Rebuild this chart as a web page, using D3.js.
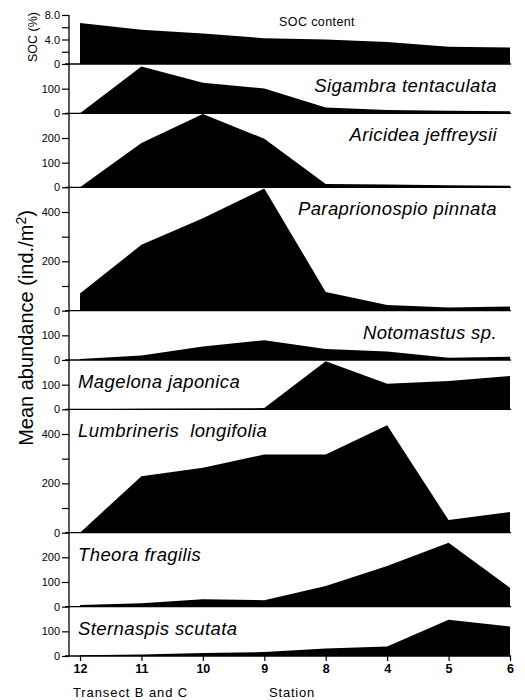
<!DOCTYPE html>
<html>
<head>
<meta charset="utf-8">
<script src="https://cdn.jsdelivr.net/npm/d3@7"></script>
<style>
  body { margin: 0; background: #fff; }
  svg { display: block; font-family: "Liberation Sans", Arial, sans-serif; }
</style>
</head>
<body>
<div id="chart"></div>
<script>
// stations along transect B and C
var stations = ["12", "11", "10", "9", "8", "4", "5", "6"];

// SOC content (%)
var socValues = [6.7, 5.6, 5.0, 4.2, 4.0, 3.6, 2.8, 2.7];

// mean abundance (ind./m2) per species
var sigambra = [0, 190, 124, 101, 24, 14, 10, 8];
var aricidea = [0, 180, 297, 197, 14, 11, 8, 6];
var paraprionospio = [70, 267, 375, 495, 76, 23, 13, 17];
var notomastus = [4, 18, 55, 80, 45, 34, 9, 13];
var magelona = [0, 2, 3, 5, 195, 104, 115, 135];
var lumbrineris = [0, 229, 263, 317, 317, 435, 51, 84];
var theora = [7, 14, 30, 26, 84, 165, 259, 77];
var sternaspis = [3, 6, 12, 16, 30, 39, 147, 120];

var speciesNames = ["Sigambra tentaculata", "Aricidea jeffreysii", "Paraprionospio pinnata",
  "Notomastus sp.", "Magelona japonica", "Lumbrineris  longifolia", "Theora fragilis", "Sternaspis scutata"];
var speciesMax = [200, 300, 500, 200, 200, 500, 300, 200];
var speciesLabelTicks = [[0, 100], [0, 100, 200], [0, 200, 400], [0, 100], [0, 100], [0, 200, 400], [0, 100, 200], [0, 100]];
var socTicks = [0, 2, 4, 6, 8];
var socTickLabels = ["0", "", "4.0", "", "8.0"];

var width = 525, height = 700;
var axisX = 69, top0 = 15, socH = 49, bottom = 656;

var svg = d3.select("#chart").append("svg")
    .attr("width", width)
    .attr("height", height);

var x = d3.scalePoint().domain(stations).range([80, 510]);

var allSpecies = [sigambra, aricidea, paraprionospio, notomastus, magelona, lumbrineris, theora, sternaspis];
var pxPerUnit = (bottom - top0 - socH) / d3.sum(speciesMax);

// build panels
var panels = [];
panels.push({values: socValues, max: 8, top: top0, h: socH, ticks: socTicks, tickLabels: socTickLabels});
var cur = top0 + socH;
allSpecies.forEach(function(vals, i) {
    var h = speciesMax[i] * pxPerUnit;
    var ticks = d3.range(0, speciesMax[i], 100);
    panels.push({
        values: vals, max: speciesMax[i], top: cur, h: h, ticks: ticks,
        tickLabels: ticks.map(function(t){ return speciesLabelTicks[i].indexOf(t) >= 0 ? String(t) : ""; }),
        name: speciesNames[i], right: i < 4
    });
    cur += h;
});

panels.forEach(function(p, i) {
    var y = d3.scaleLinear().domain([0, p.max]).range([p.top + p.h, p.top]);
    var base = p.top + p.h;

    var area = d3.area()
        .x(function(d, j){ return x(stations[j]); })
        .y0(base)
        .y1(function(d){ return y(d); });

    svg.append("path")
        .datum(p.values)
        .attr("d", area)
        .attr("fill", "#000");

    // baseline
    svg.append("line")
        .attr("x1", axisX - 4).attr("x2", 511)
        .attr("y1", base).attr("y2", base)
        .attr("stroke", "#000").attr("stroke-width", 1.3);

    // y ticks
    var yAxis = d3.axisLeft(y)
        .tickValues(p.ticks)
        .tickSize(7)
        .tickPadding(2)
        .tickFormat(function(d, k){ return p.tickLabels[k]; });
    var g = svg.append("g")
        .attr("transform", "translate(" + axisX + ",0)")
        .call(yAxis);
    g.select(".domain").remove();
    g.selectAll("line").attr("stroke-width", 1.2);
    g.selectAll("text")
        .attr("font-size", "11px")
        .attr("font-family", "Liberation Sans, Arial, sans-serif");

    if (p.name) {
        svg.append("text")
            .attr("x", p.right ? 497 : 78)
            .attr("y", p.top + 28)
            .attr("text-anchor", p.right ? "end" : "start")
            .attr("font-size", "18.5px")
            .attr("font-style", "italic")
            .attr("letter-spacing", "0.4px")
            .style("white-space", "pre")
            .text(p.name);
    }
});

// vertical axis line
svg.append("line")
    .attr("x1", axisX).attr("x2", axisX)
    .attr("y1", top0).attr("y2", bottom)
    .attr("stroke", "#000").attr("stroke-width", 1.3);

// x axis
var xAxis = d3.axisBottom(x).tickSize(5).tickPadding(3);
var gx = svg.append("g")
    .attr("transform", "translate(0," + bottom + ")")
    .call(xAxis);
gx.select(".domain").remove();
gx.selectAll("line").attr("stroke-width", 1.2);
gx.selectAll("text")
    .attr("font-size", "12.5px")
    .attr("font-weight", "bold")
    .attr("font-family", "Liberation Sans, Arial, sans-serif");

svg.append("text")
    .attr("x", 73).attr("y", 697)
    .attr("font-size", "13px")
    .attr("letter-spacing", "0.9px")
    .text("Transect B and C");

svg.append("text")
    .attr("x", 269).attr("y", 697)
    .attr("font-size", "13px")
    .attr("letter-spacing", "0.8px")
    .text("Station");

svg.append("text")
    .attr("x", 317).attr("y", 26)
    .attr("text-anchor", "middle")
    .attr("font-size", "12.5px")
    .attr("letter-spacing", "0.4px")
    .text("SOC content");

svg.append("text")
    .attr("transform", "translate(37,37) rotate(-90)")
    .attr("text-anchor", "middle")
    .attr("font-size", "12.5px")
    .text("SOC (%)");

var yt = svg.append("text")
    .attr("transform", "translate(33,328) rotate(-90)")
    .attr("text-anchor", "middle")
    .attr("font-size", "20px")
    .text("Mean abundance (ind./m");
yt.append("tspan").attr("dy", "-7").attr("font-size", "14px").text("2");
yt.append("tspan").attr("dy", "7").text(")");
</script>
</body>
</html>
